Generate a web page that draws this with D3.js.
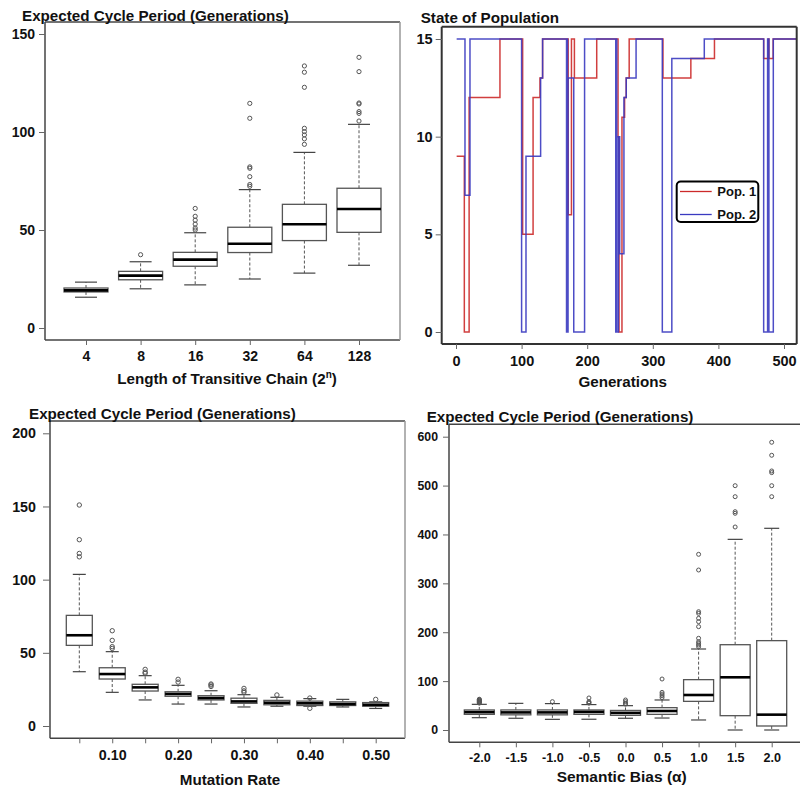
<!DOCTYPE html>
<html><head><meta charset="utf-8">
<script src="https://cdn.jsdelivr.net/npm/d3@7"></script>
<style>
body{margin:0;background:#fff}
svg{display:block}
text{font-family:"Liberation Sans",Arial,sans-serif;font-weight:bold;fill:#111}
</style>
</head><body>
<svg id="c" width="800" height="792"></svg>
<script>
// ---------- Panel A: Length of transitive chain ----------
const chainCats = ["4","8","16","32","64","128"];
const chainLow  = [15.7, 20, 22, 25, 28, 32];
const chainQ1   = [18.4, 24.6, 31.5, 38.5, 44.6, 48.8];
const chainMed  = [19.2, 26.7, 34.9, 43, 52.9, 60.7];
const chainQ3   = [20.4, 28.9, 38.6, 51.4, 63.1, 71.3];
const chainHigh = [23.4, 33.8, 48.6, 70.6, 89.6, 103.9];
const chainOut  = [[], [37.4], [50, 51, 53, 55, 57, 61],
  [72.3, 73.2, 77.2, 81.5, 82.2, 107, 114.6],
  [93.7, 96.5, 98.5, 100.2, 101.9, 122.8, 130.5, 133.7],
  [105.6, 109.5, 110.4, 114.3, 114.8, 130.8, 138.1]];
const chainYTicks = [0, 50, 100, 150];

// ---------- Panel B: State of population ----------
const pop1Gen   = [1, 12.7, 20, 67, 101.6, 117.5, 128, 132, 171, 176, 180.5, 214.5, 247, 248.5, 253, 257, 259.5, 264, 315.5, 358, 394, 469, 476, 477, 483.5, 525];
const pop1State = [9, 0, 12, 15, 5, 12, 13, 15, 6, 15, 13, 15, 10, 0, 11, 12, 13, 15, 13, 14, 15, 14, 15, 14, 15, 15];
const pop2Gen   = [1, 13.7, 21.3, 100, 106.7, 129, 132, 168.5, 169.3, 170, 170.8, 179.5, 196, 243.5, 244.3, 245, 247.5, 249.5, 256, 259.5, 274.5, 314.5, 329, 378.5, 469, 475, 477, 483.7, 525];
const pop2State = [15, 7, 15, 0, 9, 13, 15, 0, 15, 0, 13, 0, 15, 0, 15, 0, 10, 4, 12, 13, 15, 0, 14, 15, 0, 15, 0, 15, 15];
const popXTicks = [0, 100, 200, 300, 400, 500];
const popYTicks = [0, 5, 10, 15];
const popNames  = ["Pop. 1", "Pop. 2"];

// ---------- Panel C: Mutation rate ----------
const rateCats = ["0.05","0.10","0.15","0.20","0.25","0.30","0.35","0.40","0.45","0.50"];
const rateLabels = ["", "0.10", "", "0.20", "", "0.30", "", "0.40", "", "0.50"];
const rateLow  = [37.1, 23, 17.8, 15, 15, 13, 13.5, 13.5, 13, 12];
const rateQ1   = [55.1, 32.1, 23.9, 20.3, 17.8, 15.5, 14.5, 14, 14, 13.5];
const rateMed  = [62, 35.5, 26.4, 21.9, 19.1, 16.8, 15.9, 15.5, 15, 14.5];
const rateQ3   = [75.6, 39.8, 28.5, 23.4, 20.7, 19, 17.5, 17, 16.5, 16];
const rateHigh = [103.6, 50.8, 34.4, 27.8, 24.1, 21.4, 19.6, 18.7, 18.2, 16.5];
const rateOut  = [[115.6, 117.9, 127.3, 151], [53, 54.2, 58.5, 65.1], [36, 36.8, 38.7], [30, 31.9],
  [27, 28, 28.7], [23, 24, 25.7], [21.2], [12.1, 19.1], [], [18.2]];
const rateYTicks = [0, 50, 100, 150, 200];

// ---------- Panel D: Semantic bias ----------
const biasCats = ["-2.0","-1.5","-1.0","-0.5","0.0","0.5","1.0","1.5","2.0"];
const biasLow  = [25.2, 24, 21.8, 22, 24, 24.5, 20.5, 0, 0];
const biasQ1   = [32, 31, 31, 32, 30, 32, 58.6, 29.3, 8.2];
const biasMed  = [36.5, 36, 36, 37, 35, 38.9, 71.6, 107.8, 31.4];
const biasQ3   = [41, 41, 41, 41, 40, 45.7, 103, 174.5, 182.8];
const biasHigh = [52.5, 54.5, 54, 52, 49.8, 61.4, 165.7, 390, 412.6];
const biasOut  = [[55, 56, 57, 58, 59, 60, 61, 62, 63], [], [58], [55, 56, 58, 65.5], [53, 54.5, 58, 61.4],
  [66.3, 70, 73.5, 77, 104.3],
  [170.5, 173.9, 177.3, 180.7, 187.6, 211.4, 221.6, 228.5, 238.6, 242, 327.3, 359.4],
  [415.3, 443.3, 446.6, 477.3, 499.8],
  [477.3, 499.8, 526.5, 529.9, 562, 588.6]];
const biasYTicks = [0, 100, 200, 300, 400, 500, 600];

const svg = d3.select("#c");

function drawFrame(f, stroke, sw, rightColor) {
  const g = svg.append("g").attr("fill", "none").attr("stroke-width", sw);
  g.append("line").attr("x1", f.l).attr("x2", f.r).attr("y1", f.t).attr("y2", f.t).attr("stroke", stroke);
  g.append("line").attr("x1", f.l).attr("x2", f.r).attr("y1", f.b).attr("y2", f.b).attr("stroke", stroke);
  g.append("line").attr("x1", f.l).attr("x2", f.l).attr("y1", f.t).attr("y2", f.b).attr("stroke", stroke);
  g.append("line").attr("x1", f.r).attr("x2", f.r).attr("y1", f.t).attr("y2", f.b).attr("stroke", rightColor || stroke);
}

function styleAxis(g, fs) {
  g.select(".domain").remove();
  g.selectAll(".tick line").attr("stroke", "#666");
  g.selectAll(".tick text").attr("font-size", fs).attr("fill", "#111")
    .attr("font-family", "'Liberation Sans', Arial, sans-serif").attr("font-weight", "bold");
}

function boxPanel(o) {
  const x = d3.scalePoint().domain(o.cats).range(o.xRange);
  const y = d3.scaleLinear().domain(o.yDomain).range(o.yRange);
  const f = o.frame;
  const g = svg.append("g");
  o.cats.forEach((c, i) => {
    const cx = x(c), w = o.boxW;
    // whiskers
    g.append("line").attr("x1", cx).attr("x2", cx).attr("y1", y(o.q3[i])).attr("y2", y(o.high[i]))
      .attr("stroke", "#555").attr("stroke-width", 1).attr("stroke-dasharray", "3,2");
    g.append("line").attr("x1", cx).attr("x2", cx).attr("y1", y(o.q1[i])).attr("y2", y(o.low[i]))
      .attr("stroke", "#555").attr("stroke-width", 1).attr("stroke-dasharray", "3,2");
    // caps
    [o.high[i], o.low[i]].forEach(v => {
      g.append("line").attr("x1", cx - w / 4).attr("x2", cx + w / 4).attr("y1", y(v)).attr("y2", y(v))
        .attr("stroke", "#444").attr("stroke-width", 1.2);
    });
    // box
    g.append("rect").attr("x", cx - w / 2).attr("width", w)
      .attr("y", y(o.q3[i])).attr("height", y(o.q1[i]) - y(o.q3[i]))
      .attr("fill", "#fff").attr("stroke", "#555").attr("stroke-width", 1.3);
    g.append("line").attr("x1", cx - w / 2).attr("x2", cx + w / 2).attr("y1", y(o.med[i])).attr("y2", y(o.med[i]))
      .attr("stroke", "#000").attr("stroke-width", 2.6);
    // outliers
    o.out[i].forEach(v => {
      g.append("circle").attr("cx", cx).attr("cy", y(v)).attr("r", o.r)
        .attr("fill", "none").attr("stroke", "#555").attr("stroke-width", 1);
    });
  });
  drawFrame(f, "#444", 1.5, o.rightColor);
  const ya = svg.append("g").attr("transform", `translate(${f.l},0)`)
    .call(d3.axisLeft(y).tickValues(o.yTicks).tickSize(o.yTick).tickPadding(o.yPad));
  styleAxis(ya, o.fs);
  const xa = svg.append("g").attr("transform", `translate(0,${f.b})`)
    .call(d3.axisBottom(x).tickSize(o.xTick).tickPadding(o.xPad)
      .tickFormat((d, i) => o.labels ? o.labels[i] : d));
  styleAxis(xa, o.xfs || o.fs);
  svg.append("text").attr("x", o.titleX).attr("y", o.titleY).attr("font-size", 15.2).text(o.title);
  const xt = svg.append("text").attr("x", o.xTitleX).attr("y", o.xTitleY).attr("font-size", o.xTitleFs || 15.2)
    .attr("text-anchor", "middle");
  o.xTitle(xt);
}

// Panel A
boxPanel({
  cats: chainCats, low: chainLow, q1: chainQ1, med: chainMed, q3: chainQ3, high: chainHigh, out: chainOut,
  frame: {l: 45, t: 22, r: 400, b: 340}, xRange: [86, 359], yDomain: [0, 150], yRange: [328, 34],
  yTicks: chainYTicks, boxW: 44, r: 2.1, fs: 14, yTick: 6, yPad: 4, xTick: 5, xPad: 6.5,
  rightColor: "#999",
  title: "Expected Cycle Period (Generations)", titleX: 22, titleY: 21,
  xTitleX: 227, xTitleY: 384,
  xTitle: t => {
    t.append("tspan").text("Length of Transitive Chain (2");
    t.append("tspan").attr("dy", -6).attr("font-size", 10).text("n");
    t.append("tspan").attr("dy", 6).text(")");
  }
});

// Panel C
boxPanel({
  cats: rateCats, labels: rateLabels, low: rateLow, q1: rateQ1, med: rateMed, q3: rateQ3, high: rateHigh, out: rateOut,
  frame: {l: 50, t: 421, r: 405, b: 738.3}, xRange: [79.3, 375.7], yDomain: [0, 200], yRange: [726, 433.3],
  yTicks: rateYTicks, boxW: 26, r: 2.2, fs: 14.3, yTick: 7, yPad: 7, xTick: 5, xPad: 6.5,
  rightColor: "#999",
  title: "Expected Cycle Period (Generations)", titleX: 29, titleY: 418.5,
  xTitleX: 230, xTitleY: 785,
  xTitle: t => t.text("Mutation Rate")
});

// Panel D
boxPanel({
  cats: biasCats, low: biasLow, q1: biasQ1, med: biasMed, q3: biasQ3, high: biasHigh, out: biasOut,
  frame: {l: 449, t: 424.3, r: 801, b: 742.3}, xRange: [479.3, 771.7], yDomain: [0, 600], yRange: [730, 436.7],
  yTicks: biasYTicks, boxW: 30, r: 2, fs: 12.3, xfs: 12.6, yTick: 6, yPad: 5, xTick: 5, xPad: 6,
  title: "Expected Cycle Period (Generations)", titleX: 426.7, titleY: 421.7,
  xTitleX: 621.7, xTitleY: 782, xTitleFs: 15.5,
  xTitle: t => t.text("Semantic Bias (α)")
});

// Panel B
(function () {
  const f = {l: 441.7, t: 26.7, r: 796.7, b: 344};
  const x = d3.scaleLinear().domain([0, 500]).range([456, 784]);
  const y = d3.scaleLinear().domain([0, 15]).range([332, 39]);
  svg.append("clipPath").attr("id", "clipB").append("rect")
    .attr("x", f.l).attr("y", f.t).attr("width", f.r - f.l).attr("height", f.b - f.t);
  const line = d3.line().x(d => x(d[0])).y(d => y(d[1])).curve(d3.curveStepAfter);
  const g = svg.append("g").attr("clip-path", "url(#clipB)");
  g.append("path").datum(d3.zip(pop1Gen, pop1State)).attr("d", line)
    .attr("fill", "none").attr("stroke", "#cc2a2a").attr("stroke-width", 1.5).attr("stroke-opacity", 0.9);
  g.append("path").datum(d3.zip(pop2Gen, pop2State)).attr("d", line)
    .attr("fill", "none").attr("stroke", "#3a3ac0").attr("stroke-width", 1.5).attr("stroke-opacity", 0.9);
  drawFrame(f, "#333", 2);
  const ya = svg.append("g").attr("transform", `translate(${f.l},0)`)
    .call(d3.axisLeft(y).tickValues(popYTicks).tickSize(6).tickPadding(3));
  styleAxis(ya, 14.5);
  const xa = svg.append("g").attr("transform", `translate(0,${f.b})`)
    .call(d3.axisBottom(x).tickValues(popXTicks).tickSize(5).tickPadding(7));
  styleAxis(xa, 14.5);
  svg.append("text").attr("x", 420.7).attr("y", 22.7).attr("font-size", 15.2).text("State of Population");
  svg.append("text").attr("x", 622.7).attr("y", 387).attr("font-size", 15.2).attr("text-anchor", "middle").text("Generations");
  // legend
  const lg = svg.append("g");
  lg.append("rect").attr("x", 676.7).attr("y", 181.5).attr("width", 81.6).attr("height", 40.5).attr("rx", 4)
    .attr("fill", "#fff").attr("stroke", "#000").attr("stroke-width", 2);
  const colors = ["#cc2a2a", "#3a3ac0"];
  popNames.forEach((n, i) => {
    const yy = 191.5 + i * 23;
    lg.append("line").attr("x1", 680).attr("x2", 711.7).attr("y1", yy).attr("y2", yy)
      .attr("stroke", colors[i]).attr("stroke-width", 1.3);
    lg.append("text").attr("x", 717.3).attr("y", yy + 4.6).attr("font-size", 13).text(n);
  });
})();
</script>
</body></html>
